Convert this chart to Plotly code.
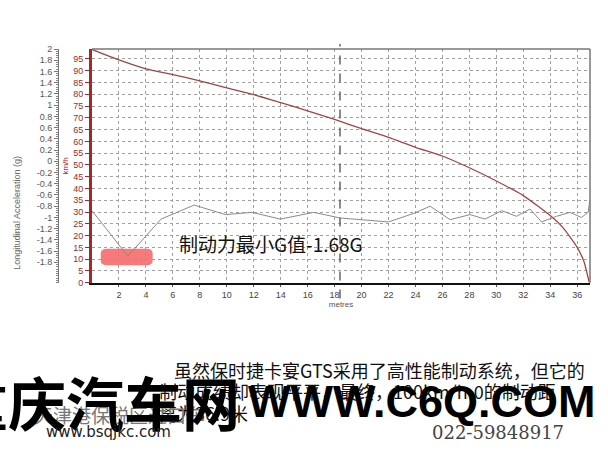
import plotly.graph_objects as go

W, H = 608, 456

# ---- data ----
speed_dist = [0, 2, 4, 6, 8, 10, 12, 14, 16, 18, 20, 22, 24, 26, 28, 30, 32, 34, 35, 36, 36.5, 36.9]
speed_kmh = [99.0, 94.6, 90.8, 88.3, 85.7, 82.7, 79.8, 76.4, 73.0, 69.3, 65.4, 61.7, 57.5, 53.8,
             48.8, 43.2, 37.0, 28.5, 23.0, 15.0, 9.0, 0.0]

acc_dist = [0, 2.66, 5.12, 7.58, 9.91, 11.88, 13.97, 15.46, 16.44, 18.42, 19.41, 22.0, 23.85,
            25.09, 26.57, 28.05, 29.16, 30.4, 31.5, 32.5, 33.36, 34.47, 35.46, 36.32, 36.81, 36.94]
acc_g = [-0.88, -1.69, -1.03, -0.78, -0.95, -0.91, -1.03, -0.95, -0.91, -1.01, -1.03, -1.08,
         -0.93, -0.80, -1.04, -0.95, -1.03, -0.88, -0.98, -0.85, -1.08, -0.98, -0.91, -1.00,
         -0.91, -0.69]

x_ticks = list(range(2, 37, 2))
kmh_ticks = list(range(0, 100, 5))
acc_ticks = [round(2 - 0.2 * i, 1) for i in range(20)]
acc_labels = [("%g" % v) for v in acc_ticks]

annot_text = "制动力最小G值-1.68G"
para_lines = ["虽然保时捷卡宴GTS采用了高性能制动系统，但它的",
              "制动成绩却表现平平，最终，100km/h-0的制动距",
              "离为36.9米"]
wm_cn = "重庆汽车网"
wm_en = "WWW.C6Q.COM"
dealer = "天津港保税区进口车"
dealer_url = "www.bsqjkc.com"
dealer_tel = "022-59848917"

# ---- geometry helpers (pixels -> paper) ----
def px(x):
    return x / W

def py(y):
    return 1 - y / H

PL, PR, PT, PB = 92, 590, 45, 284
RED = "#9e2a2a"

fig = go.Figure()
fig.add_trace(go.Scatter(x=acc_dist, y=acc_g, mode="lines", yaxis="y2",
                         line=dict(color="#8a8a8a", width=1), hoverinfo="skip"))
fig.add_trace(go.Scatter(x=speed_dist, y=speed_kmh, mode="lines", yaxis="y",
                         line=dict(color="#a04545", width=1.3, shape="spline", smoothing=0.5),
                         hoverinfo="skip"))

fig.update_layout(
    width=W, height=H, margin=dict(l=0, r=0, t=0, b=0),
    paper_bgcolor="white", plot_bgcolor="white", showlegend=False,
    font=dict(family="Liberation Sans, Arial, sans-serif", size=9, color="#444"),
    xaxis=dict(domain=[px(PL), px(PR)], range=[0, 36.95], tickvals=x_ticks,
               showgrid=True, gridcolor="#a0a0a0", griddash="dot", gridwidth=1,
               showline=True, linecolor="#111", linewidth=2, ticks="outside",
               ticklen=2, tickcolor="#555", tickfont=dict(size=9, color="#444"),
               zeroline=False, title=dict(text="metres", font=dict(size=8, color="#555"), standoff=0)),
    yaxis=dict(domain=[py(PB), py(PT)], range=[0, 99.2], tickvals=kmh_ticks,
               showgrid=True, gridcolor="#a0a0a0", griddash="dot", gridwidth=1,
               showline=True, linecolor=RED, linewidth=3, ticks="outside", ticklen=4,
               tickcolor=RED, tickfont=dict(size=9, color=RED), zeroline=False,
               title=dict(text="km/h", font=dict(size=8, color=RED), standoff=4)),
    yaxis2=dict(overlaying="y", anchor="free", position=px(58), side="left",
                range=[-2.164, 2], tickvals=acc_ticks, ticktext=acc_labels,
                showgrid=False, zeroline=False, showline=True, linecolor="#777",
                linewidth=1, ticks="outside", ticklen=4, tickcolor="#777",
                tickfont=dict(size=9, color="#555"),
                minor=dict(dtick=0.04, ticklen=2, ticks="outside", tickcolor="#888")),
)

# top / right borders
fig.add_shape(type="line", xref="paper", yref="paper", x0=px(PL), x1=px(PR), y0=py(PT), y1=py(PT),
              line=dict(color="#777", width=1.5))
fig.add_shape(type="line", xref="paper", yref="paper", x0=px(PR), x1=px(PR), y0=py(PT), y1=py(PB),
              line=dict(color="#777", width=1.5))
# cursor line
fig.add_shape(type="line", xref="x", yref="paper", x0=18.4, x1=18.4, y0=py(300), y1=py(40),
              line=dict(color="#666", width=1.5, dash="dash"))

# highlighted rounded box
x0, x1, y0, y1, rx, ry = 0.65, 4.5, 7.4, 14.4, 0.45, 2.0
path = (f"M {x0+rx},{y0} L {x1-rx},{y0} Q {x1},{y0} {x1},{y0+ry} L {x1},{y1-ry} "
        f"Q {x1},{y1} {x1-rx},{y1} L {x0+rx},{y1} Q {x0},{y1} {x0},{y1-ry} "
        f"L {x0},{y0+ry} Q {x0},{y0} {x0+rx},{y0} Z")
fig.add_shape(type="path", xref="x", yref="y", path=path, fillcolor="#f66f6f",
              opacity=0.92, line=dict(width=0), layer="between")

# axis title of acceleration axis
fig.add_annotation(text="Longitudinal Acceleration (g)", xref="paper", yref="paper",
                   x=px(10), y=py(152), textangle=-90, showarrow=False,
                   font=dict(size=9, color="#666"))

# in-chart annotation
fig.add_annotation(text=annot_text, xref="paper", yref="paper", x=px(177), y=py(244),
                   xanchor="left", yanchor="middle", showarrow=False,
                   font=dict(family="Noto Sans CJK SC", size=19, color="#111"))

# paragraph text
for i, (line, lx) in enumerate(zip(para_lines, [172, 157, 157])):
    fig.add_annotation(text=line, xref="paper", yref="paper", x=px(lx), y=py(373 + 22 * i),
                       xanchor="left", yanchor="middle", showarrow=False,
                       font=dict(family="Noto Sans CJK SC", size=18, color="#111"))

# dealer texts
fig.add_annotation(text=dealer, xref="paper", yref="paper", x=px(32), y=py(419),
                   xanchor="left", yanchor="middle", showarrow=False,
                   font=dict(family="Noto Sans CJK SC", size=19, color="#777"))

# watermark
fig.add_annotation(text="<b>" + wm_cn + "</b>", xref="paper", yref="paper", x=px(242), y=py(405),
                   xanchor="right", yanchor="middle", showarrow=False,
                   font=dict(family="Noto Sans CJK SC", size=58, color="#000", weight=900))
fig.add_annotation(text="<b>" + wm_en + "</b>", xref="paper", yref="paper", x=px(246), y=py(405),
                   xanchor="left", yanchor="middle", showarrow=False,
                   font=dict(family="Liberation Sans, Arial, sans-serif", size=45, color="#000"))

fig.add_annotation(text=dealer_url, xref="paper", yref="paper", x=px(44), y=py(437),
                   xanchor="left", yanchor="middle", showarrow=False,
                   font=dict(family="DejaVu Sans", size=15, color="#222"))
fig.add_annotation(text=dealer_tel, xref="paper", yref="paper", x=px(430), y=py(437),
                   xanchor="left", yanchor="middle", showarrow=False,
                   font=dict(family="DejaVu Serif, Liberation Serif", size=18, color="#444"))

fig.write_html("out.html", config={"displayModeBar": False},
               post_script="document.body.style.margin='0px';")
